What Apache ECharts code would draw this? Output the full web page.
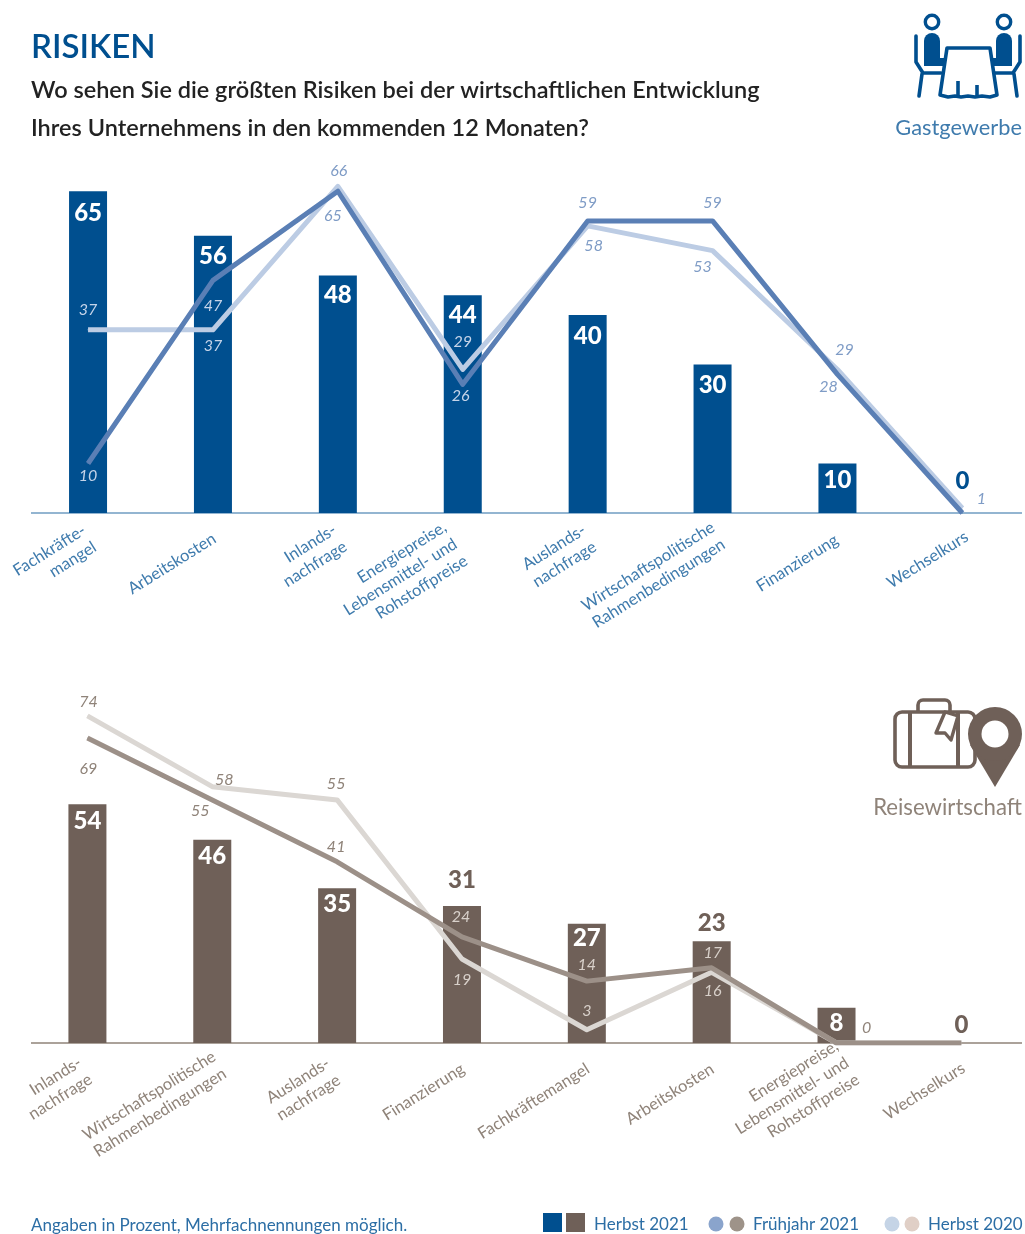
<!DOCTYPE html>
<html><head><meta charset="utf-8">
<script src="https://cdn.jsdelivr.net/npm/echarts@6/dist/echarts.min.js"></script>
<style>html,body{margin:0;padding:0;background:#fff}#c{width:1025px;height:1234px}</style>
</head><body><div id="c"></div>
<script>
const categoriesTop = ['Fachkräfte-\nmangel','Arbeitskosten','Inlands-\nnachfrage','Energiepreise,\nLebensmittel- und\nRohstoffpreise','Auslands-\nnachfrage','Wirtschaftspolitische\nRahmenbedingungen','Finanzierung','Wechselkurs'];
const herbst21Top = [65,56,48,44,40,30,10,0];
const fruehjahr21Top = [10,47,65,26,59,59,28,0];
const herbst20Top = [37,37,66,29,58,53,29,1];
const categoriesBottom = ['Inlands-\nnachfrage','Wirtschaftspolitische\nRahmenbedingungen','Auslands-\nnachfrage','Finanzierung','Fachkräftemangel','Arbeitskosten','Energiepreise,\nLebensmittel- und\nRohstoffpreise','Wechselkurs'];
const herbst21Bottom = [54,46,35,31,27,23,8,0];
const fruehjahr21Bottom = [69,55,41,24,14,17,0,0];
const herbst20Bottom = [74,58,55,19,3,16,0,0];

// line-label placement relative to its point: [dx, dy, sits on a bar?]
const placeF21Top = [[0,12.5,1],[0,25,1],[-5,25,0],[-2,12,1],[0,-18,0],[0,-18,0],[-9,12,0],null];
const placeH20Top = [[0,-20,1],[0,16,1],[1,-15,0],[0,-28,1],[6,20,0],[-10,16,0],[7,-20,0],[19,-9,0]];
const placeF21Bottom = [[1,31,0],[-12,11,0],[-1,-15,0],[-1,-20,1],[0,-16,1],[1,-15,1],[30,-15,0],null];
const placeH20Bottom = [[1,-14,0],[12,-7,0],[-1,-16,0],[0,21,1],[0,-19,1],[1,19,1],null,null];
// bar label placement: [above the bar?, dy]
const barPlaceTop = [[0,5],[0,3],[0,3],[0,3],[0,4],[0,4],[0,0],[1,-15]];
const barPlaceBottom = [[0,0],[0,0],[0,-1],[1,-9],[0,-2],[1,-1],[0,-1],[1,-1]];
// nudge of each axis label from its default anchor: [dx, dy]
const nudgeTop = [[2,0],[2,0],[3,0],[-5,8],[2.5,0],[8,0],[-1,0],[6,0]];
const nudgeBottom = [[-3,0],[10,0],[-5,0],[1.5,0],[1.5,0],[1,0],[15,0],[3,0]];

const BLUE='#004f8f', BROWN='#6f6058', BLUEL='#5a7fb5', BLUEP='#bccce4', BROWNL='#9c9088', BROWNP='#dbd7d3';
const TOPTXT='#3f7bad', BOTTXT='#8f8379', FONT='Lato';
const ROT=32, CS=Math.cos(ROT*Math.PI/180), SN=Math.sin(ROT*Math.PI/180);

function lineData(vals, place, color, onBarColor){
  return vals.map((v,i)=>{
    const p=place[i];
    if(!p) return {value:v,label:{show:false}};
    return {value:v,label:{show:true,position:'inside',color:p[2]?onBarColor:color,fontStyle:'italic',fontFamily:FONT,fontSize:16,formatter:String(v)}};
  });
}
function barData(vals, color, place){
  return vals.map((v,i)=>({value:v,label:place[i][0]?
    {show:true,position:'top',offset:[0,place[i][1]],color,fontWeight:'900',fontFamily:FONT,fontSize:24}:
    {show:true,position:'insideTop',offset:[0,place[i][1]],color:'#fff',fontWeight:'900',fontFamily:FONT,fontSize:24}}));
}
function catData(cats,nudge){
  return cats.map((c,i)=>{
    const along=nudge[i][0]*CS-nudge[i][1]*SN, perp=nudge[i][0]*SN+nudge[i][1]*CS;
    return {value:c,textStyle:{padding:[2*perp,-along,0,0]}};
  });
}
function xAxis(i,cats,color,nudge){
  return {type:'category',gridIndex:i,data:catData(cats,nudge),axisTick:{show:false},
    axisLine:{show:false},
    axisLabel:{interval:0,rotate:ROT,margin:25,color,fontFamily:FONT,fontSize:16.5,lineHeight:20}};
}
function yAxis(i,max){return {type:'value',gridIndex:i,min:0,max,show:false,splitLine:{show:false}};}
const lw=5;
function ln(name,i,data,color,z,place){return {name,type:'line',xAxisIndex:i,yAxisIndex:i,data,z,symbol:'circle',symbolSize:1,showSymbol:true,showAllSymbol:true,
  lineStyle:{color,width:lw,join:'round'},itemStyle:{color},emphasis:{disabled:true},silent:true,
  labelLayout:(params)=>{const p=place[params.dataIndex];return p?{dx:p[0],dy:p[1],hideOverlap:false}:{};}};}
function bar(name,i,data,color){return {name,type:'bar',xAxisIndex:i,yAxisIndex:i,data,barWidth:38,z:1,itemStyle:{color},silent:true};}
function t(text,left,top,color,fontSize,fontWeight,lineHeight,right){
  const o={text,top,textStyle:{color,fontSize,fontWeight:fontWeight||'normal',fontFamily:FONT,lineHeight:lineHeight||fontSize*1.2}};
  o.padding=0; if(right!==undefined)o.right=right; else o.left=left; return o;
}
function legendText(text,x){return {type:'text',x,y:1216,style:{text,fill:'#2c6ea5',font:'17px '+FONT}};}
function sw(x,col){return {type:'rect',shape:{x,y:1213,width:19,height:19},style:{fill:col}};}
function dot(cx,col){return {type:'circle',shape:{cx,cy:1224,r:7.5},style:{fill:col}};}

const seat=(m)=>{ // one person on a chair, m mirrors around the table centre
  const X=x=>m?1936-x:x;
  const s={stroke:BLUE,lineWidth:3.6,fill:'none',lineCap:'round',lineJoin:'round'};
  return [
    {type:'circle',shape:{cx:X(932),cy:22,r:6.7},style:{stroke:BLUE,lineWidth:3.4,fill:'#fff'}},
    {type:'rect',shape:{x:m?X(940):924,y:33,width:16,height:33,r:[8,8,0,0]},style:{fill:BLUE}},
    {type:'polygon',shape:{points:[[X(938),58],[X(945),58],[X(943),66],[X(938),66]]},style:{fill:BLUE}},
    {type:'polyline',shape:{points:[[X(916),36],[X(916),62],[X(923),73],[X(941),73]]},style:s},
    {type:'line',shape:{x1:X(922),y1:74,x2:X(919),y2:96},style:s}
  ];
};
const iconGast=[...seat(false),...seat(true),
 {type:'polygon',shape:{points:[[947,48],[990,48],[997,95],[990,97],[982,96],[975,97],[968,96],[961,97],[955,96],[948,97],[940,95]]},style:{stroke:BLUE,lineWidth:3.6,fill:'#fff',lineJoin:'round'}},
 {type:'line',shape:{x1:958,y1:81,x2:958,y2:96},style:{stroke:BLUE,lineWidth:3.6}},
 {type:'line',shape:{x1:977,y1:85,x2:977,y2:96},style:{stroke:BLUE,lineWidth:3.6}}];
const iconReise=[
 {type:'rect',shape:{x:918,y:700,width:32,height:16,r:5},style:{stroke:BROWN,lineWidth:3.6,fill:'#fff'}},
 {type:'rect',shape:{x:895,y:712,width:80,height:55,r:7},style:{stroke:BROWN,lineWidth:3.6,fill:'#fff'}},
 {type:'line',shape:{x1:910,y1:712,x2:910,y2:767},style:{stroke:BROWN,lineWidth:4}},
 {type:'line',shape:{x1:958,y1:712,x2:958,y2:767},style:{stroke:BROWN,lineWidth:4}},
 {type:'polygon',shape:{points:[[945,712],[958,716],[951,740],[945,733],[936,733]]},style:{stroke:BROWN,lineWidth:3.4,fill:'#fff',lineJoin:'round'}},
 {type:'polygon',shape:{points:[[970,745],[1020,745],[995,787]]},style:{fill:BROWN}},
 {type:'circle',shape:{cx:995,cy:734,r:27},style:{fill:BROWN}},
 {type:'circle',shape:{cx:995,cy:734,r:13.5},style:{fill:'#fff'}}];

const chart=echarts.init(document.getElementById('c'),null,{renderer:'canvas'});
chart.setOption({
  animation:false,backgroundColor:'#fff',
  title:[
    t('RISIKEN',31,29,'#004f8f',33,'600',36),
    t('Wo sehen Sie die größten Risiken bei der wirtschaftlichen Entwicklung\nIhres Unternehmens in den kommenden 12 Monaten?',31,71,'#222',23.5,'600',38),
    t('Gastgewerbe',null,115,'#3f7bad',21.8,'normal',26,3),
    t('Reisewirtschaft',null,795,'#8f8379',22.2,'normal',26,3),
    t('Angaben in Prozent, Mehrfachnennungen möglich.',31,1216,'#2c6ea5',17,'normal',20)
  ],
  grid:[
    {left:25.6,top:513-4.95*70,width:999.2,height:4.95*70},
    {left:25,top:1043-4.42*80,width:998.8,height:4.42*80}
  ],
  xAxis:[xAxis(0,categoriesTop,TOPTXT,nudgeTop),xAxis(1,categoriesBottom,BOTTXT,nudgeBottom)],
  yAxis:[yAxis(0,70),yAxis(1,80)],
  series:[
    bar('Herbst 2021',0,barData(herbst21Top,BLUE,barPlaceTop),BLUE),
    ln('Herbst 2020',0,lineData(herbst20Top,placeH20Top,'#7f9cc6','#c5d4e9'),BLUEP,3,placeH20Top),
    ln('Frühjahr 2021',0,lineData(fruehjahr21Top,placeF21Top,'#7f9cc6','#c5d4e9'),BLUEL,4,placeF21Top),
    bar('Herbst 2021 ',1,barData(herbst21Bottom,BROWN,barPlaceBottom),BROWN),
    ln('Herbst 2020 ',1,lineData(herbst20Bottom,placeH20Bottom,'#8f8379','#d8d0ca'),BROWNP,3,placeH20Bottom),
    ln('Frühjahr 2021 ',1,lineData(fruehjahr21Bottom,placeF21Bottom,'#8f8379','#d8d0ca'),BROWNL,4,placeF21Bottom)
  ],
  graphic:[
    {type:'line',z:0,shape:{x1:31,y1:513,x2:1022,y2:513},style:{stroke:'#6f9cc2',lineWidth:1.6}},
    {type:'line',z:0,shape:{x1:31,y1:1043,x2:1022,y2:1043},style:{stroke:'#8f8379',lineWidth:1.3}},
    sw(543,BLUE),sw(566,BROWN),legendText('Herbst 2021',594),
    dot(716,'#8aa4cc'),dot(737,'#9e9389'),legendText('Frühjahr 2021',753),
    dot(892,'#c5d4e6'),dot(912,'#e0cfc6'),legendText('Herbst 2020',928),
    ...iconGast,...iconReise
  ]
});
</script></body></html>
